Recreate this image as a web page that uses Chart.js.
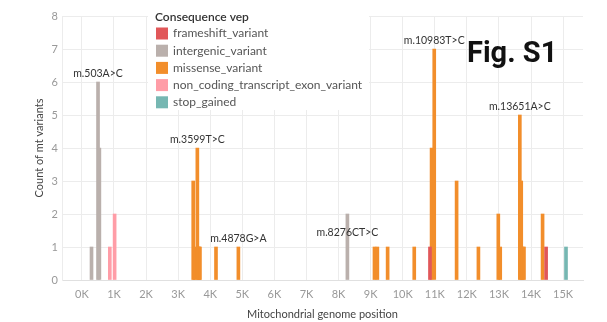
<!DOCTYPE html>
<html>
<head>
<meta charset="utf-8">
<script src="https://cdn.jsdelivr.net/npm/chart.js@4"></script>
<style>
  html, body { margin: 0; padding: 0; background: #fff; }
  #wrap { width: 607px; height: 322px; }
</style>
</head>
<body>
<div id="wrap"><canvas id="chart" width="607" height="322"></canvas></div>
<script>
// categories (legend order)
const consequences = ['frameshift_variant', 'intergenic_variant', 'missense_variant',
    'non_coding_transcript_exon_variant', 'stop_gained'];
const colors = ['#e15759', '#bab0ac', '#f28e2b', '#ff9da7', '#76b7b2'];

// positions (bp) and counts per consequence
const frameshiftPos = [10850, 14470];
const frameshiftCount = [1, 1];
const intergenicPos = [300, 503, 545, 8276];
const intergenicCount = [1, 6, 4, 2];
const missensePos = [3470, 3510, 3599, 3625, 3655, 3680, 4180, 4878, 9120, 9210, 9530, 10360,
    10900, 10983, 11680, 12360, 12980, 13040, 13651, 13695, 13740, 13780, 14360];
const missenseCount = [3, 1, 4, 1, 1, 1, 1, 1, 1, 1, 1, 1,
    4, 7, 3, 1, 2, 1, 5, 3, 1, 1, 2];
const noncodingPos = [870, 1020];
const noncodingCount = [1, 2];
const stopPos = [15090];
const stopCount = [1];

// labelled variants
const annotLabels = ['m.503A>C', 'm.3599T>C', 'm.4878G>A', 'm.8276CT>C', 'm.10983T>C', 'm.13651A>C'];
const annotPos = [503, 3599, 4878, 8276, 10983, 13651];
const annotCount = [6, 4, 1, 1.2, 7, 5];

const xTicks = [0, 1000, 2000, 3000, 4000, 5000, 6000, 7000, 8000, 9000, 10000, 11000, 12000, 13000, 14000, 15000];

const FONT = 'Lato, "Open Sans", sans-serif';
const toXY = (pos, cnt) => pos.map((p, i) => ({ x: p, y: cnt[i] }));

const seriesPos = [frameshiftPos, intergenicPos, missensePos, noncodingPos, stopPos];
const seriesCount = [frameshiftCount, intergenicCount, missenseCount, noncodingCount, stopCount];

const datasets = consequences.map((c, i) => ({
    label: c,
    data: toXY(seriesPos[i], seriesCount[i]),
    backgroundColor: colors[i],
    borderWidth: 0,
    barThickness: 3,
    grouped: false
}));

const overlay = {
    id: 'overlay',
    beforeDatasetsDraw(chart) {
        const ctx = chart.ctx;
        ctx.save();
        // legend box
        ctx.fillStyle = '#fff';
        ctx.fillRect(148, 6, 221, 104);
        ctx.fillStyle = '#333';
        ctx.font = '600 12px ' + FONT;
        ctx.textBaseline = 'middle';
        ctx.textAlign = 'left';
        ctx.fillText('Consequence vep', 155, 17);
        ctx.font = '12px ' + FONT;
        consequences.forEach((c, i) => {
            const y = 33.5 + i * 17.2;
            ctx.fillStyle = colors[i];
            ctx.fillRect(156, y - 6, 12, 12);
            ctx.fillStyle = '#555';
            ctx.fillText(c, 173, y);
        });
        ctx.restore();
    },
    afterDatasetsDraw(chart) {
        const ctx = chart.ctx;
        const xs = chart.scales.x, ys = chart.scales.y;
        ctx.save();
        ctx.fillStyle = '#333';
        ctx.font = '10.5px ' + FONT;
        ctx.textAlign = 'center';
        ctx.textBaseline = 'middle';
        annotLabels.forEach((t, i) => {
            ctx.fillText(t, xs.getPixelForValue(annotPos[i]), ys.getPixelForValue(annotCount[i]) - 8);
        });
        ctx.fillStyle = '#111';
        ctx.font = 'bold 29px Roboto, sans-serif';
        ctx.textAlign = 'left';
        ctx.fillText('Fig. S1', 467, 55);
        ctx.restore();
    }
};

new Chart(document.getElementById('chart'), {
    type: 'bar',
    data: { datasets },
    options: {
        responsive: false,
        animation: false,
        layout: { padding: { top: 16, right: 24, left: 0, bottom: 0 } },
        plugins: { legend: { display: false }, tooltip: { enabled: false } },
        scales: {
            x: {
                type: 'linear',
                offset: false,
                min: -620, max: 15620,
                afterBuildTicks: s => { s.ticks = xTicks.map(v => ({ value: v })); },
                afterFit: s => { s.height = 42; s.paddingLeft = 0; s.paddingRight = 0; },
                grid: { color: '#ececec', drawTicks: false, offset: false },
                border: { display: true, color: '#e0e0e0' },
                ticks: {
                    padding: 8, color: '#999',
                    font: { family: FONT, size: 11 },
                    callback: v => (v / 1000) + 'K',
                    maxRotation: 0
                },
                title: {
                    display: true, text: 'Mitochondrial genome position', color: '#444',
                    font: { family: FONT, size: 11 }, padding: { top: 0, bottom: 1 }
                }
            },
            y: {
                min: 0, max: 8,
                afterFit: s => { s.width = 62; s.paddingTop = 0; s.paddingBottom = 0; },
                grid: { color: '#ececec', drawTicks: false },
                border: { display: true, color: '#ececec' },
                ticks: { stepSize: 1, padding: 4, color: '#999', font: { family: FONT, size: 11 } },
                title: {
                    display: true, text: 'Count of mt variants', color: '#444',
                    font: { family: FONT, size: 11 }, padding: { top: 33, bottom: 0 }
                }
            }
        }
    },
    plugins: [overlay]
});
</script>
</body>
</html>
